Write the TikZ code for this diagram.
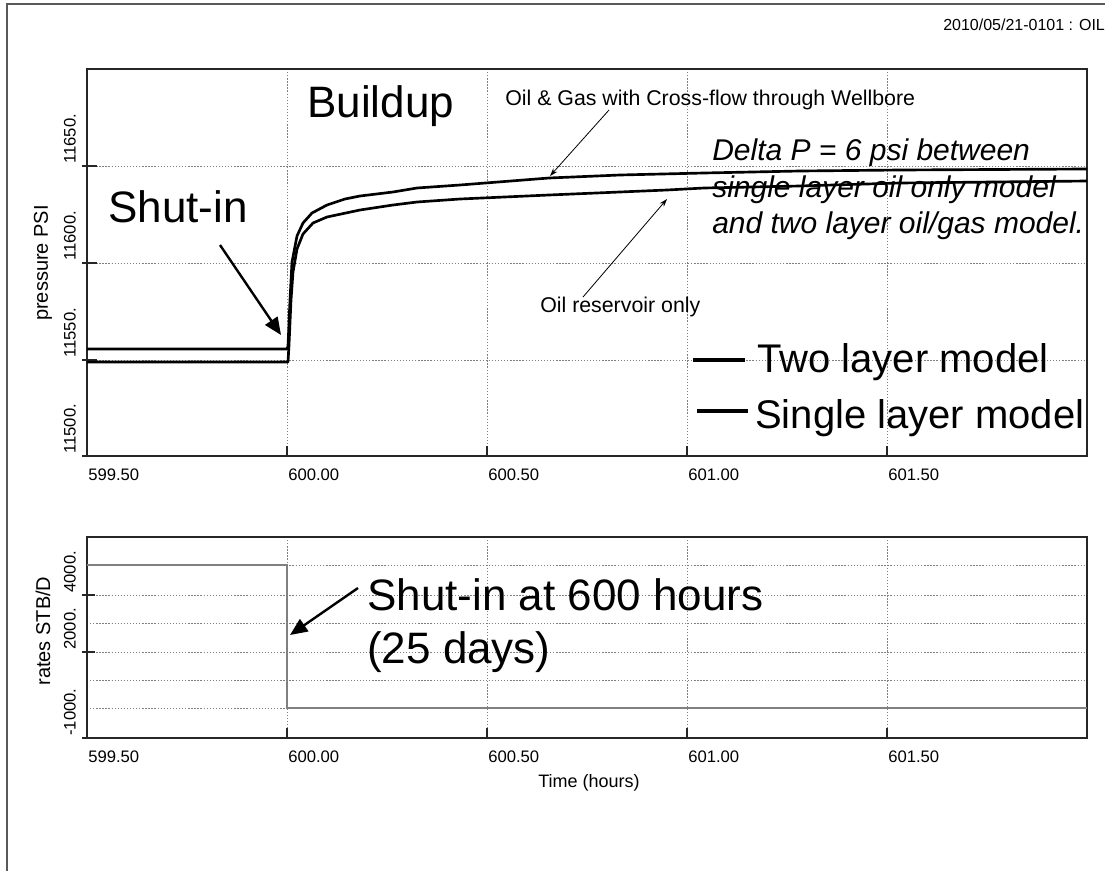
\documentclass[tikz,border=0pt]{standalone}
\usepackage{fontspec}
\setmainfont{Liberation Sans}
\usetikzlibrary{arrows.meta}

\begin{document}
\begin{tikzpicture}[x=0.75pt,y=-0.75pt,
  gridline/.style={black!50, line width=0.5pt, dash pattern=on 1pt off 1.3pt},
  plotframe/.style={black!85, line width=0.8pt},
  tickmark/.style={black!85, line width=0.8pt},
  curve/.style={black, line width=2pt, line join=round},
  ratecurve/.style={black!50, line width=2pt, line join=miter},
  legline/.style={black, line width=2.8pt},
  ticklab/.style={font=\fontsize{12.5}{14}\selectfont, inner sep=0pt},
  axislab/.style={font=\fontsize{15}{17}\selectfont, inner sep=0pt},
  bigtext/.style={font=\fontsize{33}{40}\selectfont, inner sep=0pt},
  legtext/.style={font=\fontsize{30}{36}\selectfont, inner sep=0pt},
  notetext/.style={font=\fontsize{22.5}{27}\selectfont\itshape, inner sep=0pt},
  smalltext/.style={font=\fontsize{16}{19}\selectfont, inner sep=0pt},
  bigarrow/.style={black, line width=1.8pt, -{Triangle[length=13pt,width=11pt]}},
  thinarrow/.style={black, line width=0.6pt, -{Stealth[length=6pt,width=4pt]}}
]
\useasboundingbox (0,0) rectangle (1105,871);
\fill[white] (0,0) rectangle (1105,871);

% page frame (top and left edges)
\draw[black!65, line width=1.6pt] (1105,4) -- (7,4) -- (7,871);

% header, running off the right edge of the page
\begin{scope}
  \clip (0,0) rectangle (1105,871);
  \node[inner sep=0pt, font=\fontsize{12}{14}\selectfont, anchor=base west] (hdr) at (943,30) {2010/05/21-0101 : OIL};
\end{scope}

% ---------------- pressure panel ----------------
\foreach \gx in {287,487,687,887} \draw[gridline] (\gx,69) -- (\gx,456);
\foreach \gy in {166,263,360} \draw[gridline] (87,\gy) -- (1087,\gy);
\foreach \gy in {166,263,360} \draw[tickmark] (82,\gy) -- (97,\gy);
\foreach \gx in {287,487,687,887} \draw[tickmark] (\gx,456) -- (\gx,446);
\draw[plotframe] (87,69) rectangle (1087,456);
\draw[plotframe] (82,456) -- (87,456);

\foreach \lab/\gy in {11650./166,11600./263,11550./360,11500./456}
  \node[ticklab, rotate=90, anchor=west] at (70,\gy-2) {\lab};
\foreach \lab/\gx in {599.50/87,600.00/287,600.50/487,601.00/687,601.50/887}
  \node[ticklab, anchor=west] at (\gx+1,475) {\lab};
\node[axislab, rotate=90] (plab) at (43,263) {pressure PSI};

% two layer (oil & gas with cross-flow)
\draw[curve] (87,349) -- (287,349) -- (288,346) -- (290,300) -- (292,262) -- (297,236)
  -- (303,223) -- (312,213) -- (327,205) -- (345,199) -- (360,196) -- (393,192)
  -- (417,188) -- (460,185) -- (549,178) -- (620,175) -- (704,173) -- (800,171)
  -- (900,170) -- (1087,169);
% single layer (oil only)
\draw[curve] (87,362) -- (288,362) -- (289,345) -- (291,300) -- (293,272) -- (297,249)
  -- (303,234) -- (313,223) -- (327,217) -- (360,210) -- (393,205) -- (417,202)
  -- (460,199) -- (549,195) -- (667,190) -- (704,188) -- (800,186) -- (900,183)
  -- (1087,181);

% annotations
\node[bigtext, anchor=base west] (buildup) at (307,117) {Buildup};
\node[bigtext, anchor=base west] (shutin) at (108,222) {Shut-in};
\coordinate (shutinFrom) at (220,245);
\coordinate (shutinTip) at (281,335);
\draw[bigarrow] (shutinFrom) -- (shutinTip);

\node[smalltext, anchor=base west] (gasnote) at (505,105) {Oil \& Gas with Cross-flow through Wellbore};
\coordinate (gasFrom) at (609,110);
\coordinate (gasTip) at (550,176);
\draw[thinarrow] (gasFrom) -- (gasTip);

\node[smalltext, anchor=base west] (oilnote) at (540,312) {Oil reservoir only};
\coordinate (oilFrom) at (583,297);
\coordinate (oilTip) at (667,199);
\draw[thinarrow] (oilFrom) -- (oilTip);

\node[notetext, anchor=base west] (dp1) at (712,160) {Delta P = 6 psi between};
\node[notetext, anchor=base west] (dp2) at (712,197) {single layer oil only model};
\node[notetext, anchor=base west] (dp3) at (712,233) {and two layer oil/gas model.};

% legend
\coordinate (legA1) at (693,360); \coordinate (legA2) at (745,360);
\draw[legline] (legA1) -- (legA2);
\node[legtext, anchor=base west] (leg1) at (757,372) {Two layer model};
\coordinate (legB1) at (697,411); \coordinate (legB2) at (748,411);
\draw[legline] (legB1) -- (legB2);
\node[legtext, anchor=base west] (leg2) at (755,428) {Single layer model};

% ---------------- rate panel ----------------
\foreach \gx in {287,487,687,887} \draw[gridline] (\gx,537) -- (\gx,738);
\foreach \gy in {565,595,623,652,680,708} \draw[gridline] (87,\gy) -- (1087,\gy);
\foreach \gy in {595,652} \draw[tickmark] (82,\gy) -- (95,\gy);
\foreach \gx in {287,487,687,887} \draw[tickmark] (\gx,738) -- (\gx,728);
\draw[plotframe] (87,537) rectangle (1087,738);
\draw[plotframe] (82,738) -- (87,738);

\foreach \lab/\gy in {4000./595,2000./652,-1000./738}
  \node[ticklab, rotate=90, anchor=west] at (70,\gy-2) {\lab};
\foreach \lab/\gx in {599.50/87,600.00/287,600.50/487,601.00/687,601.50/887}
  \node[ticklab, anchor=west] at (\gx+1,757) {\lab};
\node[axislab, rotate=90] (rlab) at (43,631) {rates STB/D};
\node[axislab, font=\fontsize{13.5}{16}\selectfont] (tlab) at (589,783) {Time (hours)};

\draw[ratecurve] (87,565) -- (287,565) -- (287,708) -- (1087,708);

\node[bigtext, anchor=base west] (shut600) at (367,610) {Shut-in at 600 hours};
\node[bigtext, anchor=base west] (days) at (367,663) {(25 days)};
\coordinate (rateFrom) at (358,588);
\coordinate (rateTip) at (290,635);
\draw[bigarrow] (rateFrom) -- (rateTip);
\end{tikzpicture}
\end{document}
